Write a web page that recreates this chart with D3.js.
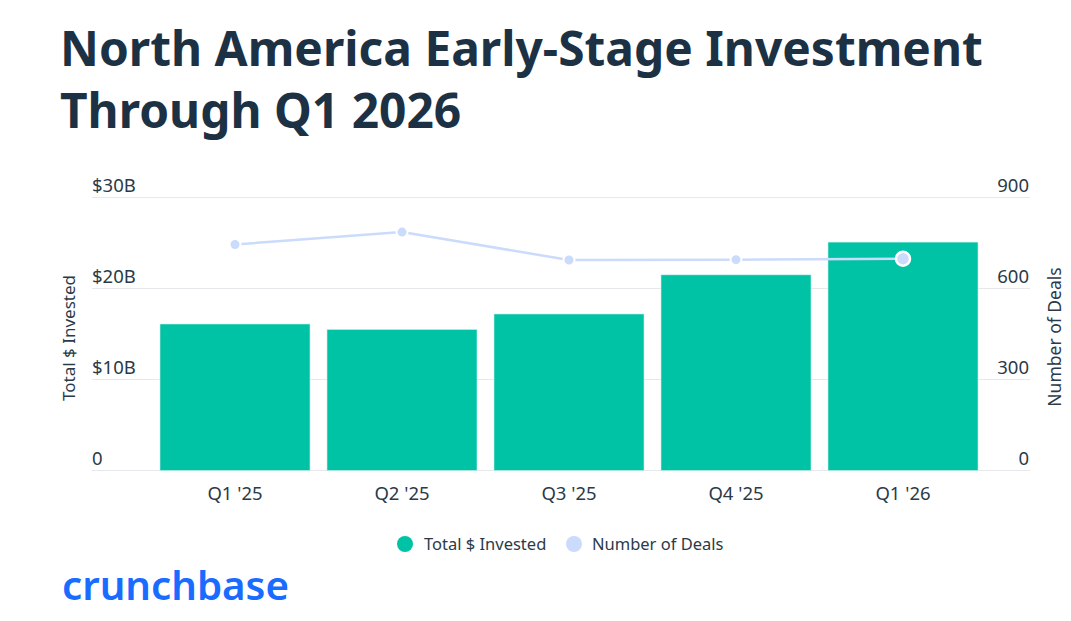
<!DOCTYPE html>
<html>
<head>
<meta charset="utf-8">
<script src="https://cdn.jsdelivr.net/npm/d3@7"></script>
<style>
  html, body { margin: 0; padding: 0; background: #ffffff; }
  svg { display: block; }
</style>
</head>
<body>
<svg id="chart" width="1071" height="621"></svg>
<script>
// ---- Data ----
const quarters = ["Q1 '25", "Q2 '25", "Q3 '25", "Q4 '25", "Q1 '26"];
const investedB = [16.1, 15.5, 17.2, 21.5, 25.1];
const dealCounts = [745, 786, 694, 695, 698];
const leftTicks = [0, 10, 20, 30];
const leftTickLabels = ["0", "$10B", "$20B", "$30B"];
const rightTicks = [0, 300, 600, 900];
const titleLines = ["North America Early-Stage Investment", "Through Q1 2026"];
const seriesNames = ["Total $ Invested", "Number of Deals"];

// ---- Styles ----
const teal = "#00c2a5";
const lineBlue = "#cbdbfb";
const textDark = "#1c3244";
const tickColor = "#2b3a48";
const gridColor = "#e6e8eb";
const font = "'Noto Sans', 'Open Sans', sans-serif";

const svg = d3.select("#chart");

// ---- Title ----
const title = svg.append("g");
titleLines.forEach((t, i) => {
  title.append("text")
    .attr("x", 60)
    .attr("y", i === 0 ? 66 : 128)
    .attr("font-family", font)
    .attr("font-weight", 700)
    .attr("font-size", 52)
    .attr("fill", textDark)
    .text(t);
});
(function fitTitle() {
  const nodes = title.selectAll("text").nodes();
  const w = nodes[0].getComputedTextLength();
  const fs = 52 * 923 / w;
  nodes.forEach(n => n.setAttribute("font-size", fs));
})();

// ---- Scales ----
const gridX0 = 92, gridX1 = 1030;
const y0 = 470.5, y1 = 197.5;
const x = d3.scaleBand().domain(quarters).range([151.5, 986.5])
  .paddingInner(17 / 167).paddingOuter(8.5 / 167);
const yL = d3.scaleLinear().domain([0, 30]).range([y0, y1]);
const yR = d3.scaleLinear().domain([0, 900]).range([y0, y1]);

// ---- Grid ----
svg.append("g").selectAll("line").data(leftTicks).join("line")
  .attr("x1", gridX0).attr("x2", gridX1)
  .attr("y1", d => yL(d)).attr("y2", d => yL(d))
  .attr("stroke", gridColor).attr("stroke-width", 1.2);

// ---- Left ticks ----
svg.append("g").selectAll("text").data(leftTicks).join("text")
  .attr("x", gridX0)
  .attr("y", d => yL(d) - 6)
  .attr("font-family", font).attr("font-size", 18.5)
  .attr("fill", tickColor)
  .text((d, i) => leftTickLabels[i]);

// ---- Right ticks ----
svg.append("g").selectAll("text").data(rightTicks).join("text")
  .attr("x", gridX1 - 1)
  .attr("y", d => yR(d) - 6)
  .attr("text-anchor", "end")
  .attr("font-family", font).attr("font-size", 18.5)
  .attr("fill", tickColor)
  .text(d => d3.format("d")(d));

// ---- Axis titles ----
svg.append("text")
  .attr("transform", "translate(75,338) rotate(-90)")
  .attr("text-anchor", "middle")
  .attr("font-family", font).attr("font-size", 17)
  .attr("fill", tickColor)
  .text(seriesNames[0]);
svg.append("text")
  .attr("transform", "translate(1061,337) rotate(-90)")
  .attr("text-anchor", "middle")
  .attr("font-family", font).attr("font-size", 17.5)
  .attr("fill", tickColor)
  .text(seriesNames[1]);

// ---- Bars ----
svg.append("g").selectAll("rect").data(quarters).join("rect")
  .attr("x", d => x(d))
  .attr("width", x.bandwidth())
  .attr("y", (d, i) => yL(investedB[i]))
  .attr("height", (d, i) => y0 - yL(investedB[i]))
  .attr("fill", teal)
  .attr("stroke", "#c9f2ea").attr("stroke-width", 0.6);

// ---- X labels ----
svg.append("g").selectAll("text").data(quarters).join("text")
  .attr("x", d => x(d) + x.bandwidth() / 2)
  .attr("y", 500)
  .attr("text-anchor", "middle")
  .attr("font-family", font).attr("font-size", 18.5)
  .attr("fill", tickColor)
  .text(d => d);

// ---- Line ----
const pts = quarters.map((q, i) => [x(q) + x.bandwidth() / 2, yR(dealCounts[i])]);
svg.append("path")
  .attr("d", d3.line()(pts))
  .attr("fill", "none")
  .attr("stroke", lineBlue)
  .attr("stroke-width", 2.5);
svg.append("g").selectAll("circle").data(pts).join("circle")
  .attr("cx", d => d[0]).attr("cy", d => d[1])
  .attr("r", (d, i) => i === pts.length - 1 ? 7 : 5.5)
  .attr("fill", lineBlue)
  .attr("stroke", "#ffffff")
  .attr("stroke-width", (d, i) => i === pts.length - 1 ? 2.5 : 2);

// ---- Legend ----
const legend = svg.append("g").attr("font-family", font).attr("font-size", 16.5).attr("fill", tickColor);
const legendItems = [
  { name: seriesNames[0], color: teal, cx: 405, tx: 424 },
  { name: seriesNames[1], color: lineBlue, cx: 574, tx: 592 }
];
legendItems.forEach(it => {
  legend.append("circle").attr("cx", it.cx).attr("cy", 544).attr("r", 8).attr("fill", it.color);
  legend.append("text").attr("x", it.tx).attr("y", 550).text(it.name);
});

// ---- Logo ----
svg.append("text")
  .attr("x", 62).attr("y", 600)
  .attr("font-family", "'Noto Sans', sans-serif")
  .attr("font-weight", 600)
  .attr("font-size", 39)
  .attr("textLength", 227)
  .attr("lengthAdjust", "spacingAndGlyphs")
  .attr("fill", "#1a6bff")
  .text("crunchbase");
</script>
</body>
</html>
